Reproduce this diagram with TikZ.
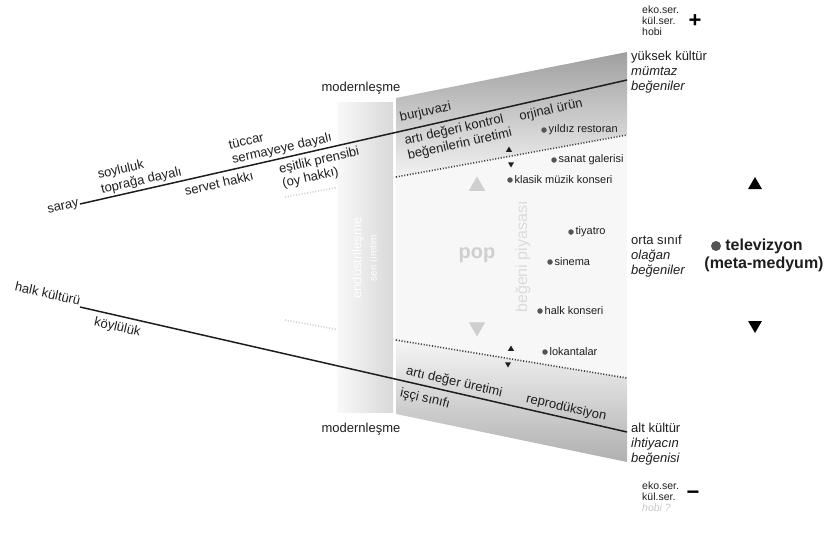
\documentclass[tikz,border=0pt]{standalone}
\usepackage{fontspec}
\setmainfont{Liberation Sans}
\usetikzlibrary{positioning,shapes.geometric}
\definecolor{txt}{HTML}{1E1E1E}
\definecolor{dotgray}{HTML}{555555}
\definecolor{palegray}{HTML}{CFCFCF}
\tikzset{
    lbl/.style={inner sep=1pt, text=txt, font=\fontsize{13}{15}\selectfont, align=left},
    side_lbl/.style={lbl, anchor=west},
    small_lbl/.style={inner sep=1pt, text=txt, font=\fontsize{10.5}{11}\selectfont, align=left, anchor=west},
    venue/.style={circle, fill=dotgray, inner sep=0pt, minimum size=5.5pt},
    venue_lbl/.style={right=0.5pt, inner sep=1pt, text=txt, font=\fontsize{11}{13}\selectfont},
    band_lbl/.style={rotate=90, text=white, inner sep=0pt},
    line/.style={line width=1.5pt, draw=txt},
    border/.style={line width=1.6pt, draw=txt!85, dash pattern=on 1.1pt off 1.7pt},
    faint_border/.style={border, draw=gray!35},
    tri/.style={regular polygon, regular polygon sides=3, minimum size=16pt, inner sep=0pt, fill=black},
    tri_small/.style={tri, minimum size=7pt, fill=txt},
    tri_pale/.style={tri, minimum size=19pt, fill=palegray},
}

\begin{document}
\begin{tikzpicture}[x=1pt, y=-1pt]
    \useasboundingbox (0,0) rectangle (826,539);

    % Corners of the taste field
    \coordinate (tl) at (396,98);
    \coordinate (tr) at (627,52);
    \coordinate (br) at (627,462);
    \coordinate (bl) at (396,414);
    \coordinate (upl) at (396,177);
    \coordinate (upr) at (627,135);
    \coordinate (lowl) at (396,340);
    \coordinate (lowr) at (627,378);
    \coordinate (upfade) at (285,197);
    \coordinate (lowfade) at (285,320);

    % Bands
    \shade[top color=gray!75, bottom color=gray!10] (tl) -- (tr) -- (upr) -- (upl) -- cycle;
    \fill[gray!6] (upl) -- (upr) -- (lowr) -- (lowl) -- cycle;
    \shade[top color=gray!8, bottom color=gray!62] (lowl) -- (lowr) -- (br) -- (bl) -- cycle;
    \draw[faint_border] (upfade) -- (upl);
    \draw[faint_border] (lowfade) -- (lowl);

    \shade[left color=gray!5, right color=gray!30] (337,102) rectangle (393,412);
    \node[band_lbl, font=\fontsize{13}{15}\selectfont] (endustri) at (358,258) {endüstrileşme};
    \node[band_lbl, font=\fontsize{10}{12}\selectfont] (seri) at (373,258) {seri üretim};

    \draw[border] (upl) -- (upr);
    \draw[border] (lowl) -- (lowr);

    \node[lbl] (modern_ust) at (361,88) {modernleşme};
    \node[lbl] (modern_alt) at (361,429) {modernleşme};

    % Upper class line
    \node[lbl, anchor=east, rotate=12.6] (saray) at (80,204) {saray};
    \coordinate (ust) at (627,80);
    \draw[line] (saray.east) -- (ust)
        node[lbl, pos=0.116, above=1pt, sloped] (soyluluk) {soyluluk\\toprağa dayalı}
        node[lbl, pos=0.373, above=1pt, sloped] (tuccar) {tüccar\\sermayeye dayalı}
        node[lbl, pos=0.25, below=4pt, sloped] (servet) {servet hakkı}
        node[lbl, pos=0.433, below=3pt, sloped] (esitlik) {eşitlik prensibi\\(oy hakkı)}
        node[lbl, pos=0.637, above=5pt, sloped] (burjuvazi) {burjuvazi}
        node[lbl, pos=0.684, below=3pt, sloped] (kontrol) {artı değeri kontrol\\beğenilerin üretimi}
        node[lbl, pos=0.856, below=5pt, sloped] (orjinal) {orjinal ürün};

    % Lower class line
    \node[lbl, anchor=south east, rotate=-13] (halk) at (80,307) {halk kültürü};
    \coordinate (alt) at (627,432);
    \draw[line] (halk.south east) -- (alt)
        node[lbl, pos=0.073, below=4pt, sloped] (koyluluk) {köylülük}
        node[lbl, pos=0.68, above=2pt, sloped] (deger) {artı değer üretimi}
        node[lbl, pos=0.636, below=5pt, sloped] (isci) {işçi sınıfı}
        node[lbl, pos=0.885, above=2pt, sloped] (repro) {reprodüksiyon};

    % Venues
    \node[venue] (yildiz) at (544,130) {};
    \node[venue_lbl, right=0.5pt of yildiz] (yildiz_l) {yıldız restoran};
    \node[venue] (galeri) at (554,160) {};
    \node[venue_lbl, right=0.5pt of galeri] (galeri_l) {sanat galerisi};
    \node[venue] (klasik) at (510,180) {};
    \node[venue_lbl, right=0.5pt of klasik] (klasik_l) {klasik müzik konseri};
    \node[venue] (tiyatro) at (571,232) {};
    \node[venue_lbl, right=0.5pt of tiyatro] (tiyatro_l) {tiyatro};
    \node[venue] (sinema) at (550,262) {};
    \node[venue_lbl, right=0.5pt of sinema] (sinema_l) {sinema};
    \node[venue] (halk_k) at (540,311) {};
    \node[venue_lbl, right=0.5pt of halk_k] (halk_k_l) {halk konseri};
    \node[venue] (lokanta) at (545,352) {};
    \node[venue_lbl, right=0.5pt of lokanta] (lokanta_l) {lokantalar};

    % Small and pale arrows
    \node[tri_small] (ust_yukari) at (509,150) {};
    \node[tri_small, shape border rotate=180] (ust_asagi) at (511,164) {};
    \node[tri_small] (alt_yukari) at (511,349) {};
    \node[tri_small, shape border rotate=180] (alt_asagi) at (508,364) {};
    \node[tri_pale] (pop_yukari) at (477,186) {};
    \node[tri_pale, shape border rotate=180] (pop_asagi) at (477,327) {};
    \node[text=palegray, font=\bfseries\fontsize{20}{22}\selectfont] (pop) at (477,255) {pop};
    \node[rotate=90, text=gray!28, font=\fontsize{16}{18}\selectfont] (piyasa) at (523,257) {beğeni piyasası};

    % Right side
    \node[side_lbl] (yuksek) at (630,72) {yüksek kültür\\\textit{mümtaz}\\\textit{beğeniler}};
    \node[side_lbl] (orta) at (630,256) {orta sınıf\\\textit{olağan}\\\textit{beğeniler}};
    \node[side_lbl] (altk) at (630,444) {alt kültür\\\textit{ihtiyacın}\\\textit{beğenisi}};

    \node[small_lbl] (eko_ust) at (641,21) {eko.ser.\\kül.ser.\\hobi};
    \node[text=black, font=\bfseries\fontsize{22}{22}\selectfont] (arti) at (695,21) {+};
    \node[small_lbl] (eko_alt) at (641,497) {eko.ser.\\kül.ser.\\\textcolor{gray!45}{\textit{hobi ?}}};
    \node[text=black, font=\bfseries\fontsize{22}{22}\selectfont] (eksi) at (693,495) {−};

    \node[tri] (yukari) at (755,185) {};
    \node[tri, shape border rotate=180] (asagi) at (755,325) {};

    \node[circle, fill=dotgray, inner sep=0pt, minimum size=10pt] (tv_dot) at (716,246) {};
    \node[text=txt, font=\bfseries\fontsize{16}{18}\selectfont, align=center] (tv) at (764,255) {televizyon\\(meta-medyum)};

\end{tikzpicture}
\end{document}
